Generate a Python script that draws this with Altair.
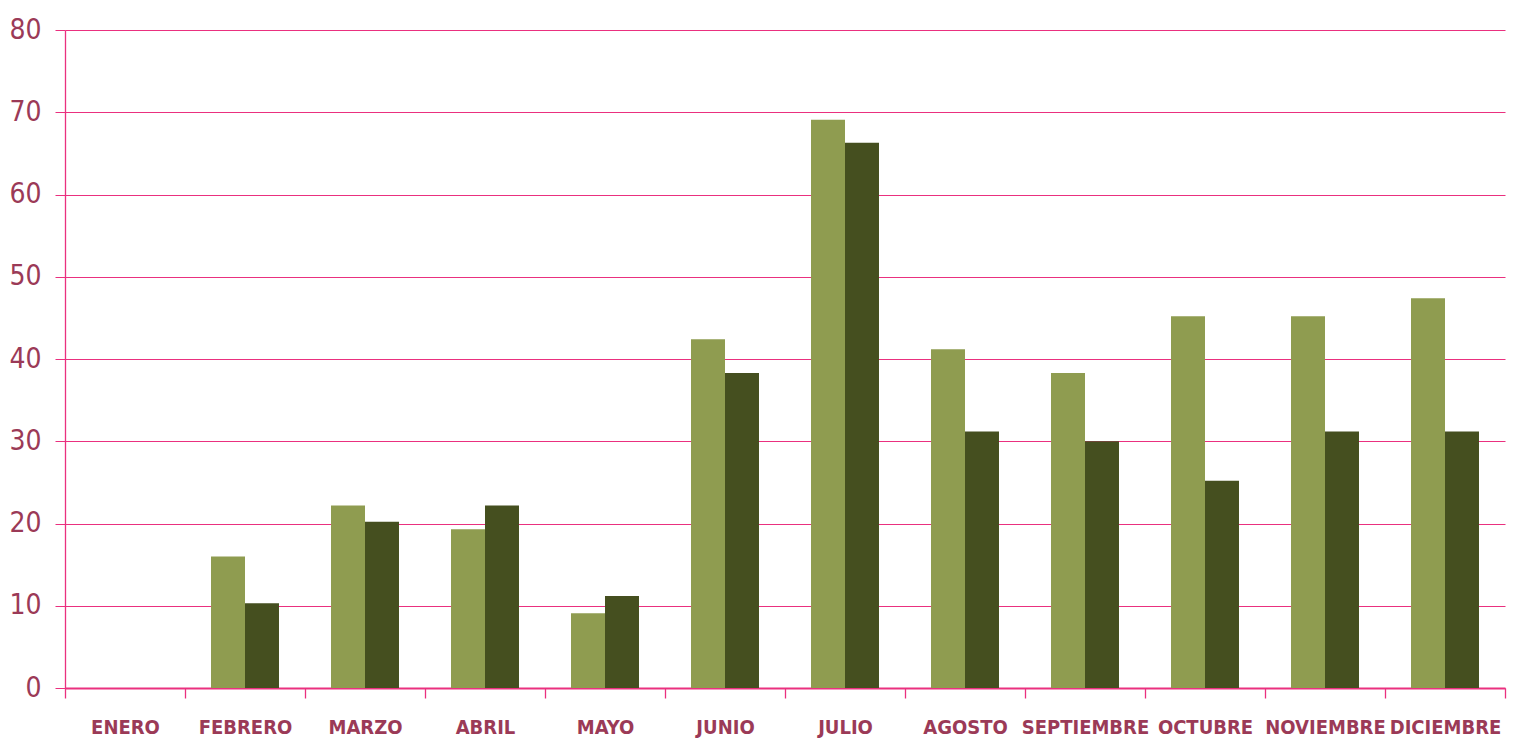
import altair as alt
import pandas as pd

months = ["ENERO", "FEBRERO", "MARZO", "ABRIL", "MAYO", "JUNIO", "JULIO",
          "AGOSTO", "SEPTIEMBRE", "OCTUBRE", "NOVIEMBRE", "DICIEMBRE"]
serie_1 = [0, 16.0, 22.2, 19.3, 9.1, 42.4, 69.1, 41.2, 38.3, 45.2, 45.2, 47.4]
serie_2 = [0, 10.3, 20.2, 22.2, 11.2, 38.3, 66.3, 31.2, 30.0, 25.2, 31.2, 31.2]
series = ["Serie 1", "Serie 2"]
colors = ["#8F9C50", "#454F1F"]

rows = []
for m, a, b in zip(months, serie_1, serie_2):
    rows.append({"mes": m, "serie": series[0], "valor": a})
    rows.append({"mes": m, "serie": series[1], "valor": b})
df = pd.DataFrame(rows)

pink = "#EA307F"
maroon = "#9B3A57"

chart = alt.Chart(df).mark_bar().encode(
    x=alt.X("mes:N", sort=months, title=None,
            scale=alt.Scale(paddingInner=0, paddingOuter=0),
            axis=alt.Axis(tickBand="extent", grid=False, labelAngle=0,
                          labelFont="DejaVu Sans Condensed", labelFontWeight="bold",
                          labelFontSize=20, labelColor=maroon, labelPadding=19,
                          labelOverlap=False, labelLimit=0,
                          domainColor=pink, tickColor=pink, tickSize=10,
                          domainWidth=1.8, tickWidth=1.3)),
    xOffset=alt.XOffset("serie:N", sort=series,
                        scale=alt.Scale(paddingInner=0, paddingOuter=0.765)),
    y=alt.Y("valor:Q", title=None,
            scale=alt.Scale(domain=[0, 80], nice=False),
            axis=alt.Axis(values=list(range(0, 90, 10)),
                          labelFont="DejaVu Sans Condensed", labelFontSize=28,
                          labelColor=maroon, labelPadding=14,
                          domainColor=pink, tickColor=pink, tickSize=10,
                          gridColor=pink, gridWidth=1.1, domainWidth=1.3)),
    color=alt.Color("serie:N", sort=series,
                    scale=alt.Scale(domain=series, range=colors), legend=None),
).properties(
    width=1440, height=658,
    autosize=alt.AutoSizeParams(type="none"),
    padding={"left": 57, "top": 22, "right": 10, "bottom": 50},
).configure_view(stroke=None)

chart.save("out.html", embed_options={"renderer": "svg", "actions": False})
